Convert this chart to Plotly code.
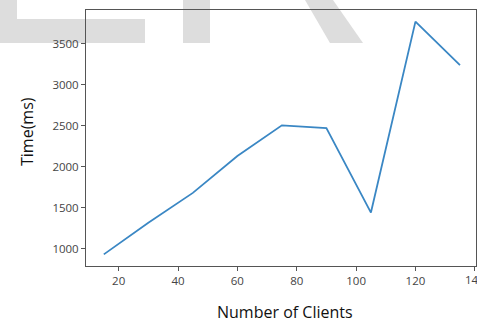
import plotly.graph_objects as go

# Response time measured for an increasing number of clients
clients = [15, 30, 45, 60, 75, 90, 105, 120, 135]
time_ms = [930, 1315, 1680, 2130, 2505, 2470, 1440, 3770, 3240]

x_ticks = [20, 40, 60, 80, 100, 120, 140]
y_ticks = [1000, 1500, 2000, 2500, 3000, 3500]

W, H = 477, 322
L, R, T, B = 86, 1, 10, 56

# axis limits with a 5% pad around the data, x trimmed at the right edge
pad_y = 0.05 * (max(time_ms) - min(time_ms))
y_range = [min(time_ms) - pad_y, max(time_ms) + pad_y]
x_range = [9, 140.4]

plot_w = W - L - R
plot_h = H - T - B

tick_font = dict(family="Open Sans", size=11.5, color="#444444")


def px(x):
    return (x - L) / plot_w


def py(y):
    return 1 - (y - T) / plot_h


def poly(points):
    d = "M " + " L ".join(f"{px(a):.5f},{py(b):.5f}" for a, b in points) + " Z"
    return dict(type="path", xref="paper", yref="paper", path=d,
                fillcolor="#dddddd", line=dict(width=0), layer="below")


fig = go.Figure()
fig.add_trace(go.Scatter(
    x=clients, y=time_ms, mode="lines",
    line=dict(color="#3a87c4", width=1.8),
    showlegend=False, hoverinfo="skip",
))

# grey lettering across the top of the page
fig.update_layout(shapes=[
    poly([(0, 0), (17, 0), (17, 19), (145, 19), (145, 43), (0, 43)]),
    poly([(183, 0), (210, 0), (210, 43), (183, 43)]),
    poly([(305, 0), (333, 0), (363, 43), (330, 43)]),
])

axis_common = dict(
    showgrid=False, zeroline=False, showline=True, mirror=True,
    linecolor="#555555", linewidth=1, ticks="outside", ticklen=4,
    tickcolor="#555555", tickwidth=1, tickfont=tick_font,
)

fig.update_xaxes(range=x_range, tickvals=x_ticks,
                 ticktext=[str(v) for v in x_ticks], **axis_common)
fig.update_yaxes(range=y_range, tickvals=y_ticks,
                 ticktext=[str(v) for v in y_ticks], **axis_common)

# the last x label runs past the page edge and is cut there
last_tick = x_ticks[-1]
fig.add_annotation(text=str(last_tick), xref="x", yref="paper",
                   x=last_tick, y=py(279), xanchor="center", yanchor="middle",
                   showarrow=False, font=tick_font)

fig.update_layout(
    width=W, height=H,
    margin=dict(l=L, r=R, t=T, b=B, pad=0),
    paper_bgcolor="white", plot_bgcolor="rgba(0,0,0,0)",
)
fig.add_annotation(text="Number of Clients", xref="paper", yref="paper",
                   x=px(285), y=py(312), xanchor="center", yanchor="middle",
                   showarrow=False,
                   font=dict(family="Open Sans", size=16, color="#111111"))
fig.add_annotation(text="Time(ms)", xref="paper", yref="paper",
                   x=px(27), y=py(132), xanchor="center", yanchor="middle",
                   textangle=-90, showarrow=False,
                   font=dict(family="Open Sans", size=16, color="#111111"))

fig.write_html("out.html")
